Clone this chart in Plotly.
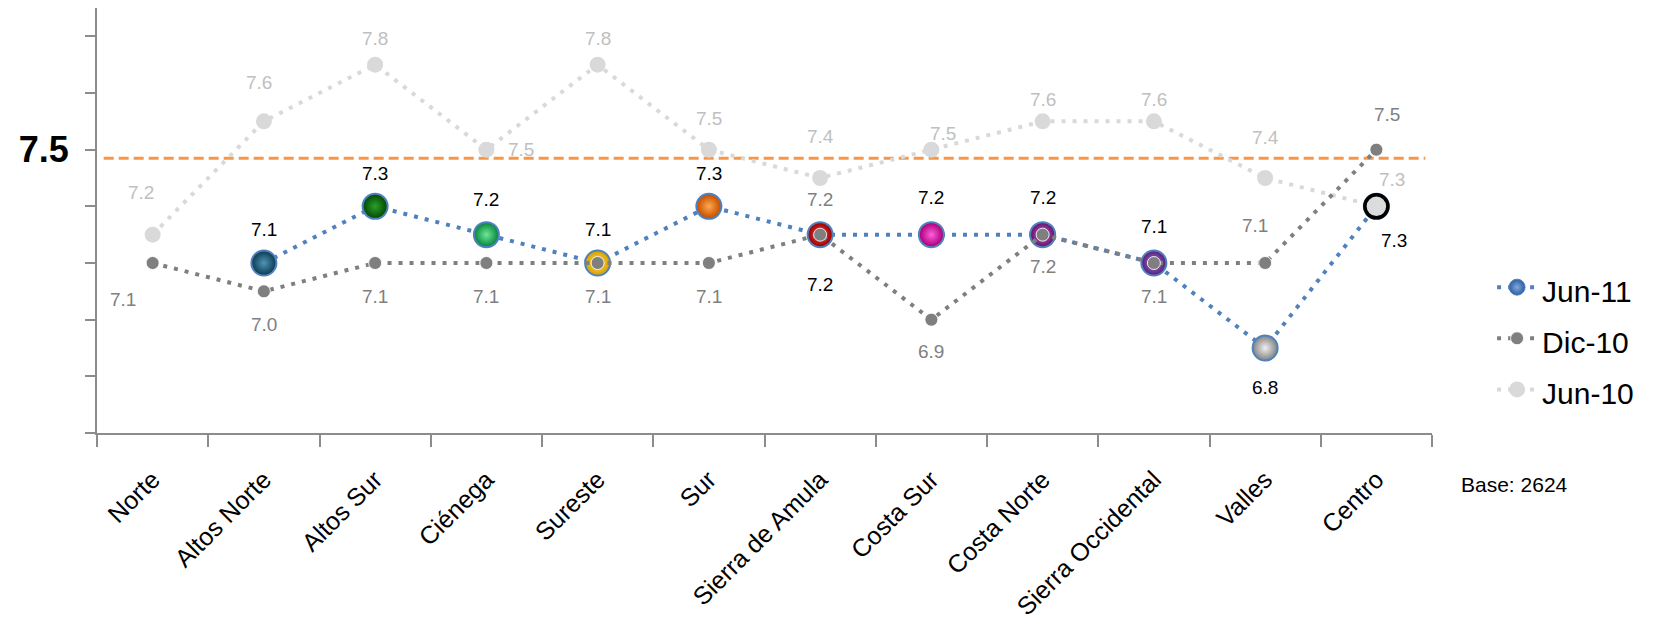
import plotly.graph_objects as go

# ---------------- data ----------------
categories = ["Norte", "Altos Norte", "Altos Sur", "Ciénega", "Sureste", "Sur",
              "Sierra de Amula", "Costa Sur", "Costa Norte", "Sierra Occidental",
              "Valles", "Centro"]
jun11 = [None, 7.1, 7.3, 7.2, 7.1, 7.3, 7.2, 7.2, 7.2, 7.1, 6.8, 7.3]
dic10 = [7.1, 7.0, 7.1, 7.1, 7.1, 7.1, 7.2, 6.9, 7.2, 7.1, 7.1, 7.5]
jun10 = [7.2, 7.6, 7.8, 7.5, 7.8, 7.5, 7.4, 7.5, 7.6, 7.6, 7.4, 7.3]
target_value = 7.47
target_label = "7.5"
y_tick_values = [6.5, 6.7, 6.9, 7.1, 7.3, 7.5, 7.7, 7.9]
base_note = "Base: 2624"

# ---------------- styles ----------------
FONT = "Liberation Sans, Arial, Helvetica, sans-serif"
BLUE = "#4f81bd"
DARK_GRAY = "#7f7f7f"
LIGHT_GRAY = "#d9d9d9"
ORANGE = "#f79646"

sphere_edge = ["#ffffff", "#123f58", "#064d06", "#0c8a40", "#d9a400", "#c85200",
               "#a00000", "#b0007c", "#6a1370", "#5a2280", "#8a8a8a", "#dcdcdc"]
sphere_glow = ["#ffffff", "#4d95b5", "#2aa02a", "#6ee898", "#ffe060", "#ffa850",
               "#f05050", "#ff60dc", "#c070c8", "#a878d0", "#f0f0f0", "#dcdcdc"]
sphere_ring = [0, 0, 0, 0, 0, 0, 0, 0, 0, 0, 0, 3.5]

# label offsets (dx, dy) in pixels
off_jun11 = [(0, 0), (0, 34), (0, 33), (0, 35), (0, 34), (0, 33), (0, -50),
             (0, 37), (0, 37), (0, 37), (0, -39), (18, -34)]
off_dic10 = [(-30, -36), (0, -33), (0, -33), (0, -33), (0, -33), (0, -33), (0, 35),
             (0, -32), (0, -32), (0, -33), (-10, 38), (11, 35)]
off_jun10 = [(-12, 42), (-5, 39), (0, 26), (35, 0), (0, 26), (0, 31), (0, 42),
             (12, 16), (0, 22), (0, 22), (0, 41), (16, 27)]

DOT = "4px,7px"


def legend_name(text):
    return f"<span style='font-size:30px'>{text}</span>"


fig = go.Figure()

# Jun-10 (bottom layer)
fig.add_trace(go.Scatter(
    x=categories, y=jun10, name=legend_name("Jun-10"), mode="lines+markers",
    line=dict(color=LIGHT_GRAY, width=4, dash=DOT),
    marker=dict(color=LIGHT_GRAY, size=16),
    legendrank=3, showlegend=True, hoverinfo="skip"))

# Jun-11 line + halo + spheres
fig.add_trace(go.Scatter(
    x=categories, y=jun11, mode="lines+markers", showlegend=False,
    line=dict(color=BLUE, width=4, dash=DOT),
    marker=dict(color=BLUE, size=27), hoverinfo="skip"))
fig.add_trace(go.Scatter(
    x=categories, y=jun11, mode="markers", showlegend=False,
    marker=dict(color=sphere_edge, size=23,
                gradient=dict(type="radial", color=sphere_glow),
                line=dict(color="black", width=sphere_ring)),
    hoverinfo="skip"))
# legend entry for Jun-11
fig.add_trace(go.Scatter(
    x=[None], y=[None], name=legend_name("Jun-11"), mode="lines+markers",
    line=dict(color=BLUE, width=4, dash=DOT),
    marker=dict(color="#2f5f9e", size=16,
                gradient=dict(type="radial", color="#7fa8e0"),
                line=dict(color=BLUE, width=1)),
    legendrank=1, showlegend=True))

# Dic-10 (top layer)
fig.add_trace(go.Scatter(
    x=categories, y=dic10, name=legend_name("Dic-10"), mode="lines+markers",
    line=dict(color=DARK_GRAY, width=4, dash=DOT),
    marker=dict(color=DARK_GRAY, size=13,
                line=dict(color="rgba(255,255,255,0.85)", width=1)),
    legendrank=2, showlegend=True, hoverinfo="skip"))

# data labels
annotations = []
for values, offsets, color in ((jun10, off_jun10, "#bfbfbf"),
                               (dic10, off_dic10, DARK_GRAY),
                               (jun11, off_jun11, "black")):
    for cat, v, (dx, dy) in zip(categories, values, offsets):
        if v is None:
            continue
        annotations.append(dict(
            x=cat, y=v, xref="x", yref="y", text=f"{v:.1f}", showarrow=False,
            xshift=dx, yshift=dy, xanchor="center", yanchor="middle",
            font=dict(family=FONT, size=19, color=color)))

annotations.append(dict(
    x=1.0, y=6.5, xref="paper", yref="y", text=base_note, showarrow=False,
    xanchor="left", yanchor="middle", xshift=27, yshift=-51,
    font=dict(family=FONT, size=21, color="black")))

fig.add_shape(type="line", xref="paper", yref="y", x0=0.005, x1=0.995,
              y0=target_value, y1=target_value,
              line=dict(color=ORANGE, width=3, dash="10px,5px"), layer="below")

# page body has an 8px default margin -> figure is 8px smaller, offsets adjusted
fig.update_layout(
    width=1647, height=610,
    margin=dict(l=89, r=223, t=0, b=185, autoexpand=False),
    paper_bgcolor="white", plot_bgcolor="white",
    font=dict(family=FONT, color="black"),
    annotations=annotations,
    showlegend=True,
    legend=dict(x=1.045, y=0.415, xanchor="left", yanchor="top",
                font=dict(family=FONT, size=37, color="black"),
                traceorder="normal",
                bgcolor="rgba(0,0,0,0)", itemwidth=40),
    xaxis=dict(type="category", range=[-0.5, 11.5], showgrid=False, zeroline=False,
               automargin=False,
               showline=True, linecolor="#8c8c8c", linewidth=2,
               ticks="outside", ticklen=12, tickwidth=2, tickcolor="#8c8c8c",
               tickson="boundaries", tickangle=-45, ticklabelstandoff=20,
               tickfont=dict(family=FONT, size=25, color="black")),
    yaxis=dict(range=[6.5, 8.0], showgrid=False, zeroline=False,
               automargin=False,
               showline=True, linecolor="#8c8c8c", linewidth=2,
               ticks="outside", ticklen=10, tickwidth=2, tickcolor="#8c8c8c",
               tickvals=y_tick_values,
               ticktext=[f"<b>{target_label}</b>" if abs(t - 7.5) < 1e-9 else "" for t in y_tick_values],
               ticklabelstandoff=9,
               tickfont=dict(family=FONT, size=36, color="black")),
)

fig.write_html("out.html")
